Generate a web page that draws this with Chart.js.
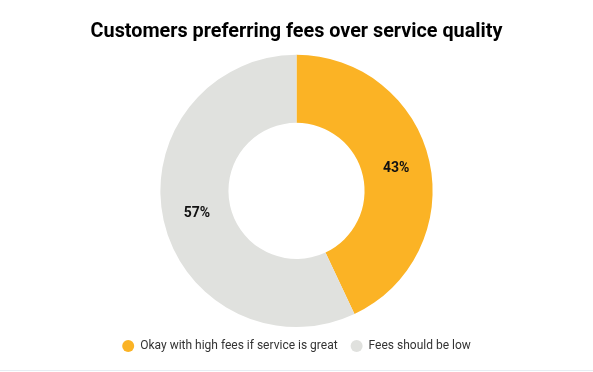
<!DOCTYPE html>
<html>
<head>
<meta charset="utf-8">
<script src="https://cdn.jsdelivr.net/npm/chart.js@4.4.1/dist/chart.umd.min.js"></script>
<style>
  html, body { margin: 0; padding: 0; background: #fff; }
  #wrap { width: 593px; height: 370px; border-bottom: 1px solid #e6edf3; }
</style>
</head>
<body>
<div id="wrap"><canvas id="myChart" width="593" height="370"></canvas></div>
<script>
const labels = ['Okay with high fees if service is great', 'Fees should be low'];
const shares = [43, 57];
const colors = ['#fbb325', '#e0e1de'];

// draws the % text at the middle of each slice
const sliceLabels = {
  id: 'sliceLabels',
  afterDatasetsDraw(chart) {
    const ctx = chart.ctx;
    const meta = chart.getDatasetMeta(0);
    ctx.save();
    ctx.font = 'bold 14px Roboto';
    ctx.fillStyle = '#111';
    ctx.textAlign = 'center';
    ctx.textBaseline = 'middle';
    meta.data.forEach((arc, i) => {
      const p = arc.tooltipPosition();
      ctx.fillText(shares[i] + '%', p.x, p.y);
    });
    ctx.restore();
  }
};

const options = {
  type: 'doughnut',
  data: {
    labels: labels,
    datasets: [
      {
        data: shares,
        backgroundColor: colors,
        borderWidth: 0
      }
    ]
  },
  options: {
    responsive: false,
    animation: false,
    cutout: '50%',
    layout: { padding: { top: 0, bottom: 8 } },
    plugins: {
      title: {
        display: true,
        text: 'Customers preferring fees over service quality',
        color: '#000',
        font: { family: 'Roboto', size: 19.8, weight: 'bold' },
        padding: { top: 20, bottom: 11 }
      },
      legend: {
        position: 'bottom',
        labels: {
          usePointStyle: true,
          pointStyle: 'circle',
          boxWidth: 17,
          boxHeight: 8.5,
          padding: 13,
          color: '#333',
          font: { family: 'Roboto', size: 12 }
        }
      },
      tooltip: { enabled: false }
    }
  },
  plugins: [sliceLabels]
};

const ctx = document.getElementById('myChart').getContext('2d');
const myChart = new Chart(ctx, options);
</script>
</body>
</html>
